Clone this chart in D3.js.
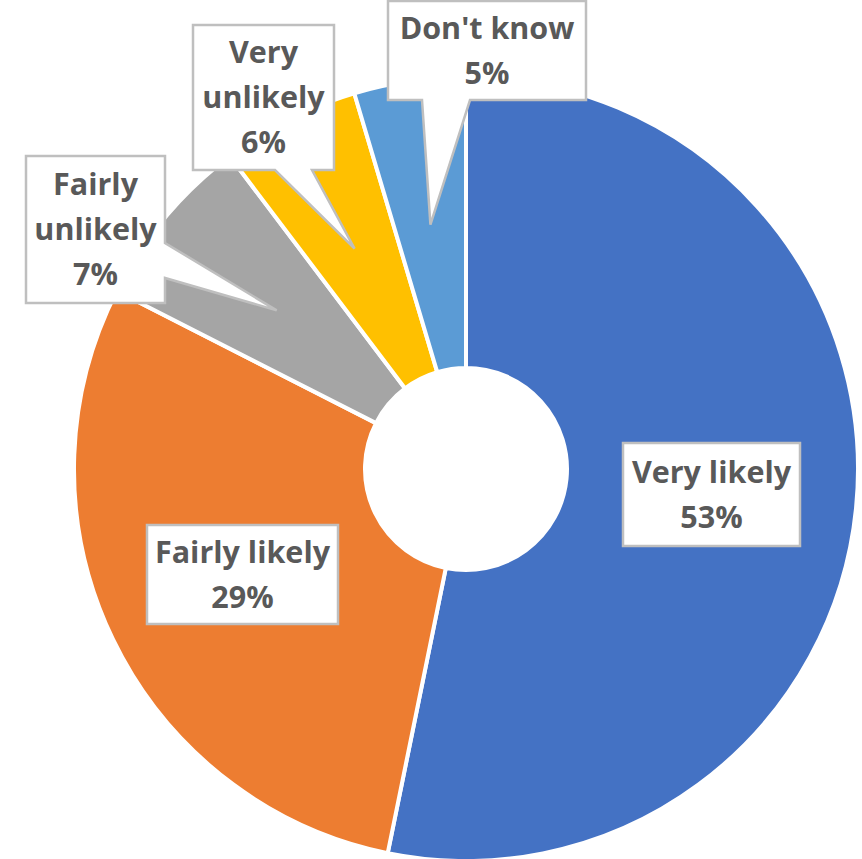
<!DOCTYPE html>
<html><head><meta charset="utf-8">
<script src="https://cdn.jsdelivr.net/npm/d3@7"></script>
<style>html,body{margin:0;padding:0;background:#fff;}svg{display:block;}</style>
</head><body>
<svg id="c" width="862" height="859"></svg>
<script>
// ---- data ----
const categories = ["Very likely", "Fairly likely", "Fairly unlikely", "Very unlikely", "Don't know"];
const values = [53.2, 29.3, 7.2, 5.7, 4.6];
const labelLines = [["Very likely"], ["Fairly likely"], ["Fairly", "unlikely"], ["Very", "unlikely"], ["Don't know"]];
const percentLabels = ["53%", "29%", "7%", "6%", "5%"];
const colors = ["#4472C4", "#ED7D31", "#A5A5A5", "#FFC000", "#5B9BD5"];

// ---- layout ----
const cx = 466, cy = 469, rOuter = 392, rInner = 101, rTip = 247;
const boxes = [
  {x: 623, y: 443, w: 177, h: 103, side: null},
  {x: 147, y: 525, w: 191, h: 99, side: null},
  {x: 26, y: 156, w: 139, h: 147, side: "right", a: 243, b: 278},
  {x: 193, y: 25, w: 141, h: 145, side: "bottom", a: 275, b: 312},
  {x: 388, y: 1, w: 198, h: 99, side: "bottom", a: 422, b: 470}
];
const fontSize = 30.5, lineH = 45;

const svg = d3.select("#c");
const g = svg.append("g").attr("transform", `translate(${cx},${cy})`);
const pie = d3.pie().sort(null).value(d => d)(values);
const arc = d3.arc().innerRadius(rInner).outerRadius(rOuter);
g.selectAll("path.slice").data(pie).join("path")
  .attr("class", "slice")
  .attr("d", arc)
  .attr("fill", (d, i) => colors[i])
  .attr("stroke", "#fff").attr("stroke-width", 4).attr("stroke-linejoin", "round");

const tipArc = d3.arc().innerRadius(rTip).outerRadius(rTip);

function calloutPath(b, tip) {
  const x0 = b.x, y0 = b.y, x1 = b.x + b.w, y1 = b.y + b.h;
  const p = d3.path();
  p.moveTo(x0, y0);
  p.lineTo(x1, y0);
  if (b.side === "right") { p.lineTo(x1, b.a); p.lineTo(tip[0], tip[1]); p.lineTo(x1, b.b); }
  p.lineTo(x1, y1);
  if (b.side === "bottom") { p.lineTo(b.b, y1); p.lineTo(tip[0], tip[1]); p.lineTo(b.a, y1); }
  p.lineTo(x0, y1);
  p.closePath();
  return p.toString();
}

const labels = svg.append("g");
pie.forEach((d, i) => {
  const b = boxes[i];
  const c = tipArc.centroid(d);
  const tip = [c[0] + cx, c[1] + cy];
  labels.append("path")
    .attr("d", calloutPath(b, tip))
    .attr("fill", "#fff").attr("stroke", "#BFBFBF").attr("stroke-width", 2.5).attr("stroke-linejoin", "miter");
  const lines = labelLines[i].concat([percentLabels[i]]);
  const n = lines.length;
  const midY = b.y + b.h / 2;
  const firstBase = midY - (n - 1) * lineH / 2 + fontSize * 0.36;
  const t = labels.append("text")
    .attr("font-family", "'Open Sans', Lato, sans-serif")
    .attr("font-weight", "bold").attr("font-size", fontSize)
    .attr("fill", "#595959").attr("text-anchor", "middle");
  lines.forEach((ln, k) => {
    t.append("tspan").attr("x", b.x + b.w / 2).attr("y", firstBase + k * lineH).text(ln);
  });
});
</script>
</body></html>
